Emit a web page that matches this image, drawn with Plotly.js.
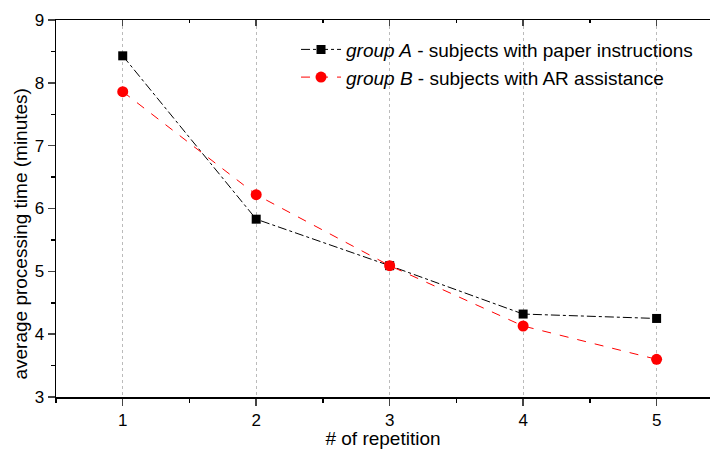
<!DOCTYPE html>
<html><head><meta charset="utf-8">
<script src="https://cdn.plot.ly/plotly-3.0.1.min.js"></script>
<style>html,body{margin:0;padding:0;background:#fff}</style>
</head><body>
<div id="chart" style="width:710px;height:449px"></div>
<script>
const repetitions = [1, 2, 3, 4, 5];
const groupA = [8.43, 5.83, 5.09, 4.32, 4.25];
const groupB = [7.86, 6.22, 5.09, 4.13, 3.60];
const nameA = '<i>group A</i> - subjects with paper instructions';
const nameB = '<i>group B</i> - subjects with AR assistance';
const xTitle = '# of repetition';
const yTitle = 'average processing time (minutes)';

const fontFam = 'Liberation Sans, Arial, sans-serif';
const traces = [
  {x: repetitions, y: groupA, name: nameA, type: 'scatter', mode: 'lines+markers',
   line: {color: '#000', width: 1, dash: 'dashdot'},
   marker: {symbol: 'square', size: 9, color: '#000'}},
  {x: repetitions, y: groupB, name: nameB, type: 'scatter', mode: 'lines+markers',
   line: {color: '#ff0000', width: 1, dash: 'dash'},
   marker: {symbol: 'circle', size: 11, color: '#ff0000'}},
  {x: [repetitions[0]], y: [groupA[0]], xaxis: 'x2', showlegend: false, hoverinfo: 'skip',
   mode: 'markers', marker: {opacity: 0}}
];
const layout = {
  width: 710, height: 449,
  margin: {l: 56, r: 0, t: 20, b: 52},
  paper_bgcolor: '#fff', plot_bgcolor: '#fff',
  font: {family: fontFam, size: 17, color: '#000'},
  showlegend: true,
  legend: {x: 0.367, y: 0.972, xanchor: 'left', yanchor: 'top', bgcolor: 'rgba(0,0,0,0)',
           font: {size: 19, family: fontFam}, tracegroupgap: 0, itemwidth: 40},
  xaxis: {range: [0.5, 5.4], tickvals: repetitions, ticks: 'outside', ticklen: 7, tickwidth: 1.5,
          showline: true, linewidth: 1.5, linecolor: '#000', zeroline: false,
          showgrid: true, gridcolor: '#bbb', griddash: 'dot', gridwidth: 1,
          minor: {dtick: 0.5, tick0: 0.5, ticks: 'outside', ticklen: 4, tickcolor: '#000', showgrid: false},
          title: {text: xTitle, font: {size: 19}, standoff: 9},
          tickfont: {size: 17}},
  xaxis2: {overlaying: 'x', side: 'top', range: [0.5, 5.4], tickvals: repetitions, ticks: 'inside',
           ticklen: 6, tickwidth: 1.5, showticklabels: false, showline: true, linewidth: 1.5,
           linecolor: '#000', showgrid: false, zeroline: false,
           minor: {dtick: 0.5, tick0: 0.5, ticks: 'inside', ticklen: 3, tickcolor: '#000'}},
  yaxis: {range: [3, 9], dtick: 1, ticks: 'outside', ticklen: 7, tickwidth: 1.5,
          showline: true, linewidth: 1.5, linecolor: '#000', zeroline: false, showgrid: false,
          minor: {dtick: 0.5, ticks: 'outside', ticklen: 4, tickcolor: '#000'},
          tickfont: {size: 17}},
  annotations: [{text: yTitle, textangle: -90, xref: 'paper', yref: 'paper',
                 x: -0.055, y: 0.431, xanchor: 'center', yanchor: 'middle', showarrow: false,
                 font: {size: 19, family: fontFam}}]
};
Plotly.newPlot('chart', traces, layout, {displayModeBar: false, staticPlot: true});
</script>
</body></html>
